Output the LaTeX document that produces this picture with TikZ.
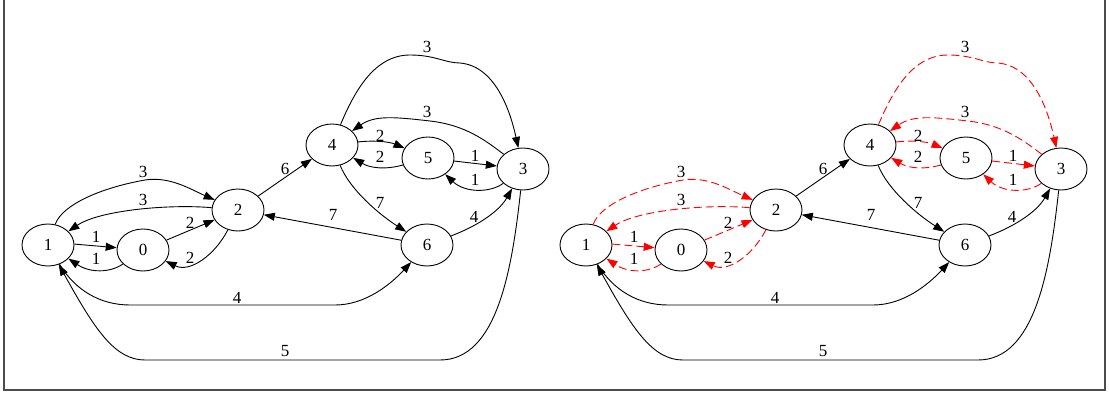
\documentclass[tikz,border=0pt]{standalone}
\usepackage{fontspec}
\setmainfont{Liberation Serif}
\usetikzlibrary{arrows.meta,shapes.geometric}
\tikzset{
  gnode/.style={draw, ellipse, line width=0.9pt, minimum width=52pt, minimum height=42pt, inner sep=0pt, font=\fontsize{17}{17}\selectfont},
  elabel/.style={inner sep=0pt, font=\fontsize{17}{17}\selectfont},
  edge/.style={line width=0.9pt, -{Triangle[length=11pt,width=8pt]}},
  plainedge/.style={},
  hledge/.style={red, dash pattern=on 8pt off 4pt},
  frameline/.style={draw=black!70, line width=1.5pt},
}
\newcommand\drawgraph[3]{%
\begin{scope}[xshift=#2pt]
  \node[gnode] (#1n1) at (48,245) {1};
  \node[gnode] (#1n0) at (143,250) {0};
  \node[gnode] (#1n2) at (238,210) {2};
  \node[gnode] (#1n4) at (332,145) {4};
  \node[gnode] (#1n5) at (428,158) {5};
  \node[gnode] (#1n3) at (523,169) {3};
  \node[gnode] (#1n6) at (427,245) {6};
  % highlighted edges
  \draw[edge,#3] (#1n1) .. controls (62,205) and (100,188) .. (145,180) .. controls (170,176) and (192,190) .. (#1n2);
  \draw[edge,#3] (#1n2) .. controls (170,204) and (100,210) .. (#1n1);
  \draw[edge,#3] (#1n1.2) -- (#1n0.175);
  \draw[edge,#3] (#1n0) .. controls (110,273) and (90,273) .. (#1n1);
  \draw[edge,#3] (#1n0) -- (#1n2);
  \draw[edge,#3] (#1n2) .. controls (215,255) and (190,273) .. (#1n0);
  \draw[edge,#3] (#1n4) .. controls (375,140) and (390,142) .. (#1n5);
  \draw[edge,#3] (#1n5) .. controls (385,170) and (370,168) .. (#1n4);
  \draw[edge,#3] (#1n5) -- (#1n3);
  \draw[edge,#3] (#1n3) .. controls (490,193) and (465,193) .. (#1n5);
  \draw[edge,#3] (#1n4) .. controls (355,90) and (375,55) .. (410,55) .. controls (435,55) and (445,63) .. (460,63) .. controls (495,66) and (510,110) .. (#1n3);
  \draw[edge,#3] (#1n3) .. controls (485,140) and (465,125) .. (430,121) .. controls (395,117) and (375,115) .. (#1n4);
  % plain edges
  \draw[edge] (#1n2) -- (#1n4);
  \draw[edge] (#1n6) -- (#1n2);
  \draw[edge] (#1n4) .. controls (350,190) and (380,215) .. (#1n6);
  \draw[edge] (#1n6) .. controls (480,225) and (500,210) .. (#1n3);
  \draw[edge] (#1n1) .. controls (75,290) and (100,305) .. (130,305) -- (335,305) .. controls (365,305) and (390,285) .. (#1n6);
  \draw[edge] (#1n3) .. controls (512,270) and (497,360) .. (440,360) -- (145,360) .. controls (115,360) and (95,330) .. (#1n1);
  % labels
  \node[elabel] (#1l1) at (143,172) {3};
  \node[elabel] (#1l2) at (143,200) {3};
  \node[elabel] (#1l3) at (96,237) {1};
  \node[elabel] (#1l4) at (96,259) {1};
  \node[elabel] (#1l5) at (190,223) {2};
  \node[elabel] (#1l6) at (190,258) {2};
  \node[elabel] (#1l7) at (285,169) {6};
  \node[elabel] (#1l8) at (333,215) {7};
  \node[elabel] (#1l9) at (380,203) {7};
  \node[elabel] (#1l10) at (474,217) {4};
  \node[elabel] (#1l11) at (380,136) {2};
  \node[elabel] (#1l12) at (380,157) {2};
  \node[elabel] (#1l13) at (475,156) {1};
  \node[elabel] (#1l14) at (475,180) {1};
  \node[elabel] (#1l15) at (427,47) {3};
  \node[elabel] (#1l16) at (427,112) {3};
  \node[elabel] (#1l17) at (237,298) {4};
  \node[elabel] (#1l18) at (285,351) {5};
\end{scope}}
\begin{document}
\begin{tikzpicture}[x=1pt,y=-1pt]
  \useasboundingbox (0,0) rectangle (1109,394);
  \fill[white] (0,0) rectangle (1109,394);
  \draw[frameline] (4,-2) -- (4,390) -- (1105,390) -- (1105,-2);
  \drawgraph{L}{0}{plainedge}
  \drawgraph{R}{538}{hledge}
\end{tikzpicture}
\end{document}
